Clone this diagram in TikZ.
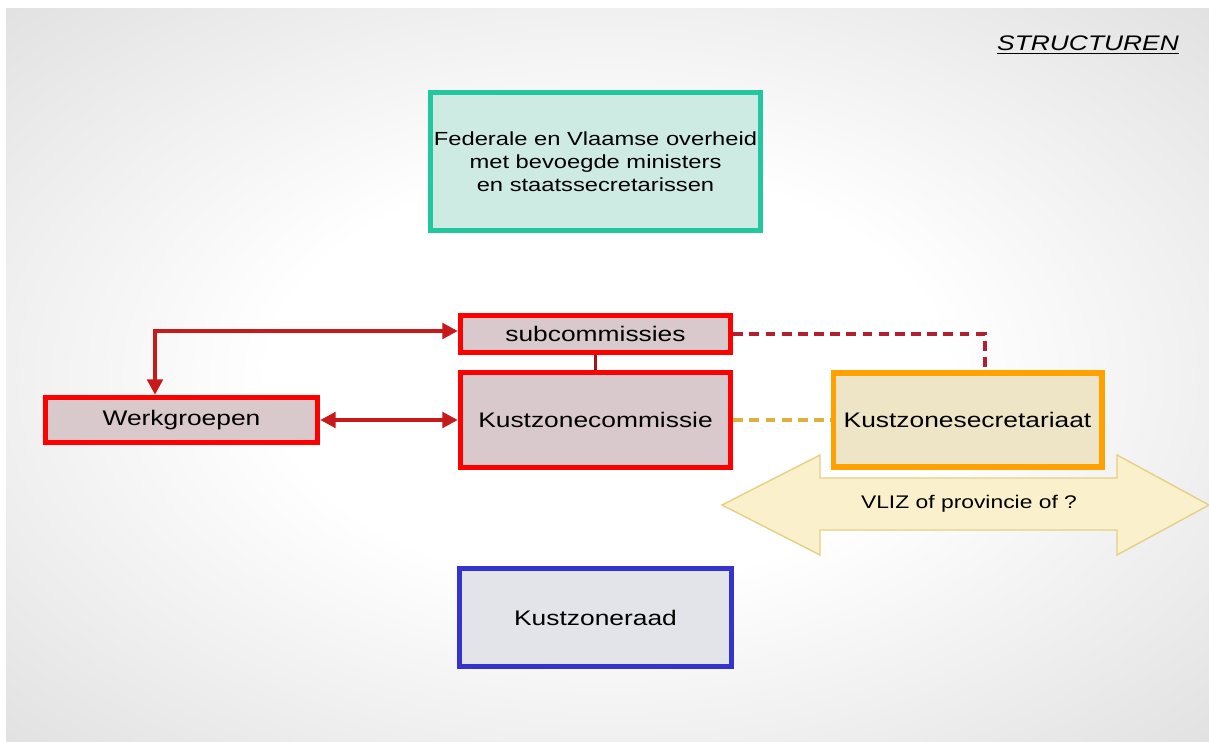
\documentclass[tikz,border=0pt]{standalone}
\usepackage{fontspec}
\setmainfont{Liberation Sans}
\newfontfamily\boxfont[FakeStretch=1.25]{Liberation Sans}
\usetikzlibrary{arrows.meta}

\definecolor{bggray}{HTML}{DEDEDE}
\definecolor{tealrand}{HTML}{22C79E}
\definecolor{tealvul}{HTML}{CDEAE3}
\definecolor{roodvul}{HTML}{D9C9CC}
\definecolor{lijnrood}{HTML}{C81A1A}
\definecolor{streeprood}{HTML}{B0202E}
\definecolor{streepgeel}{HTML}{DDB040}
\definecolor{oranjerand}{HTML}{FFA200}
\definecolor{oranjevul}{HTML}{EEE5C6}
\definecolor{pijlvul}{HTML}{FBF0CC}
\definecolor{pijlrand}{HTML}{E6CF86}
\definecolor{blauwrand}{HTML}{3434CC}
\definecolor{blauwvul}{HTML}{E3E3EA}

\pgfdeclareradialshading{gloed}{\pgfpoint{0bp}{0bp}}{color(0bp)=(white); color(14bp)=(white); color(38bp)=(bggray); color(50bp)=(bggray)}

\tikzset{
  orgbox/.style={draw, font=\boxfont\fontsize{15}{16.5}\selectfont, align=center, inner sep=1pt},
  roodbox/.style={orgbox, draw=red, line width=3.8pt, fill=roodvul},
  link/.style={draw=lijnrood, line width=2.6pt, {Triangle[length=11pt,width=11pt]}-{Triangle[length=11pt,width=11pt]}},
  streep/.style={line width=2.6pt, dash pattern=on 7pt off 4.5pt}
}

\begin{document}
\begin{tikzpicture}[x=0.025cm, y=-0.025cm] % structuren
    \useasboundingbox (0,0) rectangle (1209,742);
    \fill[white] (0,0) rectangle (1209,742);
    \shade[shading=gloed] (6,9) rectangle (1209,742);

    \node[font=\boxfont\fontsize{15}{16.5}\selectfont\itshape] (titel) at (1088,45) {\underline{STRUCTUREN}};

    \node[orgbox, draw=tealrand, line width=3.8pt, fill=tealvul,
          font=\boxfont\fontsize{13.5}{16.2}\selectfont,
          minimum width=8.25cm, minimum height=3.45cm] (fed) at (595.5,161.5)
          {Federale en Vlaamse overheid\\met bevoegde ministers\\en staatssecretarissen};

    % dubbele pijl achter het secretariaat
    \coordinate (P1) at (722,505);
    \coordinate (P2) at (820,455);
    \coordinate (P3) at (820,478);
    \coordinate (P4) at (1117,478);
    \coordinate (P5) at (1117,455);
    \coordinate (P6) at (1209,505);
    \coordinate (P7) at (1117,555);
    \coordinate (P8) at (1117,530);
    \coordinate (P9) at (820,530);
    \coordinate (P10) at (820,555);
    \filldraw[fill=pijlvul, draw=pijlrand, line width=1pt]
        (P1) -- (P2) -- (P3) -- (P4) -- (P5) -- (P6) -- (P7) -- (P8) -- (P9) -- (P10) -- cycle;
    \node[font=\boxfont\fontsize{13}{15}\selectfont] (vliz) at (969,504) {VLIZ of provincie of ?};

    \node[roodbox, minimum width=6.75cm, minimum height=0.925cm] (subc) at (595.5,334) {subcommissies};
    \node[roodbox, minimum width=6.75cm, minimum height=2.375cm] (kzc) at (595.5,420) {Kustzonecommissie};
    \node[roodbox, minimum width=6.8cm, minimum height=1.125cm] (wg) at (181.5,420) {Werkgroepen};
    \node[orgbox, draw=oranjerand, line width=4.2pt, fill=oranjevul,
          minimum width=6.7cm, minimum height=2.35cm] (secr) at (967.5,420) {Kustzonesecretariaat};
    \node[orgbox, draw=blauwrand, line width=3.2pt, fill=blauwvul,
          minimum width=6.8cm, minimum height=2.45cm] (raad) at (595.5,617.5) {Kustzoneraad};

    \coordinate (h) at (155,331);
    \coordinate (k) at (985,334);

    \draw[link] (subc.west |- h) -| (h |- wg.north);
    \draw[link] (wg.east) -- (kzc.west);
    \draw[draw=lijnrood!80!black, line width=1.8pt] (subc.south) -- (kzc.north);
    \draw[streep, streeprood] (subc.east) -| (k |- secr.north);
    \draw[streep, streepgeel] (kzc.east) -- (secr.west);
\end{tikzpicture}
\end{document}
